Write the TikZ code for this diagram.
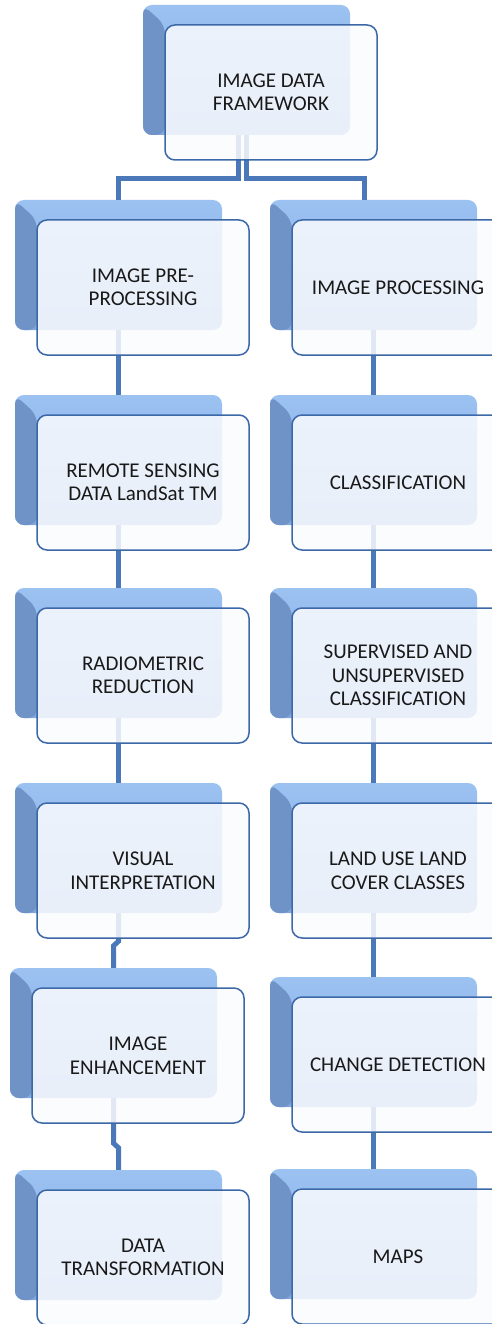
\documentclass[tikz,border=0pt]{standalone}
\usepackage{fontspec}
\setmainfont{Carlito}
\usepackage{tikz}
\usetikzlibrary{calc}
\definecolor{linkblue}{HTML}{4A78B8}
\definecolor{edgeblue}{HTML}{3C68A8}
\definecolor{backtop}{HTML}{9CC2F2}
\definecolor{backbot}{HTML}{82A9DF}
\definecolor{bevel}{HTML}{6F93C7}
\definecolor{paper}{HTML}{FAFBFE}
\tikzset{
    backbox/.style={rectangle, rounded corners=9pt, minimum width=207pt, minimum height=130pt,
        top color=backtop, bottom color=backbot,
        path picture={\fill[bevel] (path picture bounding box.north west) -- ++(22pt,-20pt)
            -- ($(path picture bounding box.south west)+(22pt,0pt)$)
            -- (path picture bounding box.south west) -- cycle;}},
    frontbox/.style={rectangle, rounded corners=10pt, draw=edgeblue, line width=1.5pt,
        fill=paper, fill opacity=0.86, text opacity=1, text=black!90,
        minimum width=212pt, minimum height=135pt, align=center,
        font=\fontsize{21}{23.5}\selectfont},
    link/.style={draw=linkblue, line width=5pt}
}

\begin{document}
\begin{tikzpicture}[x=1pt,y=-1pt]
    \useasboundingbox (0,0) rectangle (492,1324);
    % back plates
    \node[backbox] (top-b) at (246.5,70) {};
    \node[backbox] (pre-b) at (118.5,265) {};
    \node[backbox] (rs-b) at (118.5,460) {};
    \node[backbox] (rad-b) at (118.5,653) {};
    \node[backbox] (vis-b) at (118.5,848) {};
    \node[backbox] (enh-b) at (113.5,1033) {};
    \node[backbox] (dt-b) at (118.5,1235) {};
    \node[backbox] (proc-b) at (373.5,265) {};
    \node[backbox] (cls-b) at (373.5,460) {};
    \node[backbox] (sup-b) at (373.5,653) {};
    \node[backbox] (lulc-b) at (373.5,848) {};
    \node[backbox] (chg-b) at (373.5,1042) {};
    \node[backbox] (maps-b) at (373.5,1234) {};
    % connectors
    \draw[link] ([xshift=-8.5pt]top-b.south) -- ++(0,43) -| (pre-b.north);
    \draw[link] (top-b.south) -- ++(0,43) -| ([xshift=-9.5pt]proc-b.north);
    \draw[link] (pre-b) -- (rs-b);
    \draw[link] (rs-b) -- (rad-b);
    \draw[link] (rad-b) -- (vis-b);
    \draw[link] (vis-b.south) -- ++(0,28) -- ([yshift=22pt]enh-b.north) -- (enh-b.north);
    \draw[link] (enh-b.south) -- ++(0,45) -- ([yshift=22pt]dt-b.north) -- (dt-b.north);
    \draw[link] (proc-b) -- (cls-b);
    \draw[link] (cls-b) -- (sup-b);
    \draw[link] (sup-b) -- (lulc-b);
    \draw[link] (lulc-b) -- (chg-b);
    \draw[link] (chg-b) -- (maps-b);
    % front cards
    \node[frontbox] (top) at ([shift={(24.5,22.5)}]top-b.center) {IMAGE DATA\\FRAMEWORK};
    \node[frontbox] (pre) at ([shift={(24.5,22.5)}]pre-b.center) {IMAGE PRE-\\PROCESSING};
    \node[frontbox] (rs) at ([shift={(24.5,22.5)}]rs-b.center) {REMOTE SENSING\\DATA LandSat TM};
    \node[frontbox] (rad) at ([shift={(24.5,22.5)}]rad-b.center) {RADIOMETRIC\\REDUCTION};
    \node[frontbox] (vis) at ([shift={(24.5,22.5)}]vis-b.center) {VISUAL\\INTERPRETATION};
    \node[frontbox] (enh) at ([shift={(24.5,22.5)}]enh-b.center) {IMAGE\\ENHANCEMENT};
    \node[frontbox] (dt) at ([shift={(24.5,22.5)}]dt-b.center) {DATA\\TRANSFORMATION};
    \node[frontbox] (proc) at ([shift={(24.5,22.5)}]proc-b.center) {IMAGE PROCESSING};
    \node[frontbox] (cls) at ([shift={(24.5,22.5)}]cls-b.center) {CLASSIFICATION};
    \node[frontbox] (sup) at ([shift={(24.5,22.5)}]sup-b.center) {SUPERVISED AND\\UNSUPERVISED\\CLASSIFICATION};
    \node[frontbox] (lulc) at ([shift={(24.5,22.5)}]lulc-b.center) {LAND USE LAND\\COVER CLASSES};
    \node[frontbox] (chg) at ([shift={(24.5,22.5)}]chg-b.center) {CHANGE DETECTION};
    \node[frontbox] (maps) at ([shift={(24.5,22.5)}]maps-b.center) {MAPS};
\end{tikzpicture}
\end{document}
